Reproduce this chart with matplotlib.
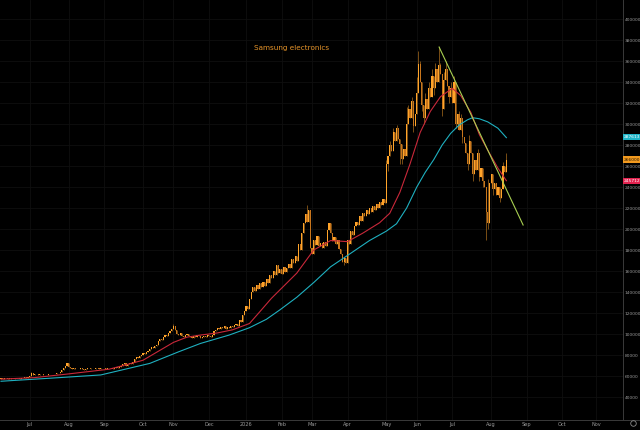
import numpy as np
import matplotlib
matplotlib.use("Agg")
from matplotlib import pyplot as plt

# daily closes, thousands of won
closes = [
    58, 57.5, 58, 58.5, 57.5, 58, 57, 57.5, 58, 58.5,
    58, 57.5, 58, 58.5, 59, 58.5, 59, 60, 63, 61,
    61.5, 62, 61, 61.5, 62, 61, 60.5, 61, 62, 61.5,
    62, 61.5, 62, 62.5, 63, 64, 66, 68, 70, 72,
    69, 68, 67, 68, 67, 66.5, 67, 68, 67, 66,
    67, 67.5, 68, 67, 66.5, 67, 68, 67.5, 67, 68,
    67.5, 68, 67, 68, 67.5, 68, 67, 68, 68.5, 68,
    69, 70, 71, 72, 70, 71, 72, 71, 73, 76,
    78, 77, 79, 80, 82, 81, 83, 84, 86, 88,
    87, 89, 90, 93, 95, 94, 97, 99, 98, 101,
    103, 105, 108, 104, 100, 99, 101, 98, 97, 99,
    100, 98, 97, 96, 98, 97, 99, 98, 96, 97,
    98, 97, 99, 98, 97, 99, 103, 104, 106, 105,
    107, 106, 108, 105, 107, 106, 108, 107, 109, 110,
    108, 113, 111, 118, 122, 127, 124, 133, 140, 145,
    141, 147, 143, 149, 145, 150, 146, 152, 149, 156,
    153, 160, 156, 166, 158, 162, 157, 164, 159, 163,
    167, 163, 171, 168, 174, 170, 186, 180, 196, 206,
    214, 207, 218, 182, 176, 190, 185, 193, 184, 187,
    182, 188, 184, 199, 206, 196, 189, 192, 186, 190,
    181, 176, 169, 172, 168, 190, 186, 198, 194, 203,
    207, 204, 212, 208, 215, 212, 218, 214, 220, 216,
    222, 218, 224, 220, 226, 223, 229, 225, 262, 270,
    280, 274, 292, 284, 296, 286, 281, 267, 276, 270,
    300, 314, 306, 322, 298, 310, 330, 357, 340, 318,
    306, 324, 314, 334, 326, 346, 334, 352, 340, 356,
    348, 314, 342, 352, 336, 326, 334, 320, 340, 300,
    310, 294, 306, 288, 282, 272, 262, 284, 272, 252,
    266, 256, 272, 250, 258, 246, 240, 216, 206, 244,
    252, 238, 244, 232, 240, 230, 238, 260, 254, 266,
]
first_open = 57.5
# visible wick extremes (bar index: price)
wick_highs = {18: 64, 102: 110, 181: 223, 228: 266, 230: 284, 232: 296, 234: 299,
              240: 316, 241: 318, 243: 326, 246: 345, 247: 370, 248: 360, 251: 330,
              253: 340, 255: 352, 257: 358, 258: 350, 259: 373, 260: 358, 262: 350,
              263: 360, 266: 340, 268: 346, 271: 312, 272: 310, 277: 290, 282: 276,
              288: 248, 297: 264, 299: 272}
wick_lows = {203: 166, 229: 255, 236: 262, 237: 262, 244: 292, 249: 312, 250: 300,
             256: 328, 261: 308, 265: 320, 269: 296, 273: 282, 276: 256, 279: 246,
             283: 246, 285: 240, 287: 190, 288: 200, 291: 232, 295: 226}

# moving averages (bar index, price)
ma_fast_idx = [0, 20, 40, 64, 84, 102, 110, 118, 128, 137, 147, 153, 160, 165, 175, 185, 195,
               205, 214, 224, 230, 236, 242, 248, 254, 260, 267, 272, 278, 283, 288, 294, 299]
ma_fast_val = [57, 58.5, 62, 66.5, 75, 92, 97, 99, 101, 104, 110, 121, 134, 142, 158, 180, 189,
               188, 196, 206, 215, 235, 262, 292, 312, 326, 334, 327, 311, 290, 275, 258, 246]
ma_slow_idx = [0, 30, 59, 88, 105, 118, 135, 147, 157, 165, 175, 185, 195, 207, 218, 228, 234,
               240, 246, 251, 256, 261, 266, 271, 276, 279, 283, 288, 294, 299]
ma_slow_val = [55, 58, 61, 72, 83, 91, 99, 106, 114, 123, 135, 149, 164, 177, 189, 198, 205,
               220, 240, 254, 266, 280, 291, 299, 304, 306, 305, 302, 296, 287]

# trend line drawn from the June top
trend_idx = [259.2, 308.9]
trend_val = [373.3, 203.8]

month_idx = [17, 40, 61, 84, 102, 123, 145, 166, 184, 205, 228, 246, 267, 290, 311, 332, 352]
month_labels = ["Jul", "Aug", "Sep", "Oct", "Nov", "Dec", "2026", "Feb", "Mar",
                "Apr", "May", "Jun", "Jul", "Aug", "Sep", "Oct", "Nov"]

price_ticks = list(range(40000, 400001, 20000))
last_labels = [("287613", 287.6, "#1fb5c8", "#ffffff"),
               ("266000", 266.0, "#f29a1f", "#2a1800"),
               ("245712", 245.7, "#e2234f", "#ffffff")]

bg = "#000000"
grid_c = "#0f0f0f"
text_c = "#9a9a9a"
up_c = "#ffa42a"
down_c = "#c9761c"
wick_c = "#8c5a18"

fig = plt.figure(figsize=(6.4, 4.3), dpi=100, facecolor=bg)
ax = fig.add_axes([0, 10 / 430, 623 / 640, 420 / 430], facecolor=bg)

c = np.array(closes) * 1000
o = np.concatenate([[first_open * 1000], c[:-1]])
idx = np.arange(len(c))
hi = np.maximum(o, c)
lo = np.minimum(o, c)
for k, v in wick_highs.items():
    hi[k] = v * 1000
for k, v in wick_lows.items():
    lo[k] = v * 1000
cols = [up_c if cc >= oo else down_c for oo, cc in zip(o, c)]

ax.vlines(idx, lo, hi, colors=wick_c, linewidth=0.6, zorder=3)
body = np.where(np.abs(c - o) < 400, 400, c - o)
ax.bar(idx, body, bottom=o, width=0.7, color=cols, linewidth=0, zorder=3)

ax.plot(ma_slow_idx, np.array(ma_slow_val) * 1000, color="#1fb0c0", lw=0.8, zorder=4)
ax.plot(ma_fast_idx, np.array(ma_fast_val) * 1000, color="#c9283a", lw=0.8, zorder=4)
ax.plot(trend_idx, np.array(trend_val) * 1000, color="#a9d052", lw=0.8, zorder=5)

ax.set_xlim(-0.6, 368)
ax.set_ylim(18100, 418100)

ax.set_xticks(month_idx)
ax.set_xticklabels(month_labels)
ax.set_yticks(price_ticks)
ax.set_yticklabels([str(p) for p in price_ticks])
ax.yaxis.tick_right()
ax.tick_params(axis="both", length=0, colors=text_c, labelsize=3.6)
ax.tick_params(axis="x", pad=1.5)
ax.tick_params(axis="y", pad=1.0, labelsize=3.2)
ax.grid(True, color=grid_c, lw=0.6)
ax.set_axisbelow(True)
for s in ["top", "left"]:
    ax.spines[s].set_visible(False)
ax.spines["right"].set_color("#3a3a3a")
ax.spines["bottom"].set_color("#3a3a3a")
ax.spines["right"].set_linewidth(0.7)
ax.spines["bottom"].set_linewidth(0.7)

fig.add_artist(plt.Line2D([623 / 640, 1], [10 / 430, 10 / 430], color="#3a3a3a",
                          lw=0.7, transform=fig.transFigure))

for txt, val, fc, tc in last_labels:
    ax.annotate(txt, xy=(1.0, val * 1000), xycoords=("axes fraction", "data"),
                xytext=(0.8, 0), textcoords="offset points", ha="left", va="center",
                fontsize=3.2, color=tc, annotation_clip=False,
                bbox=dict(boxstyle="square,pad=0.3", fc=fc, ec="none"))

fig.text(292 / 640, 1 - 48 / 430, "Samsung electronics", color="#e8952a",
         fontsize=5.2, ha="center", va="center")

fig.add_artist(plt.Line2D([633 / 640], [7 / 430], marker="o", markersize=4,
                          markerfacecolor="none", markeredgecolor="#8a8a8a",
                          markeredgewidth=0.6, transform=fig.transFigure))

fig.savefig("out.png", dpi=100, facecolor=bg)
